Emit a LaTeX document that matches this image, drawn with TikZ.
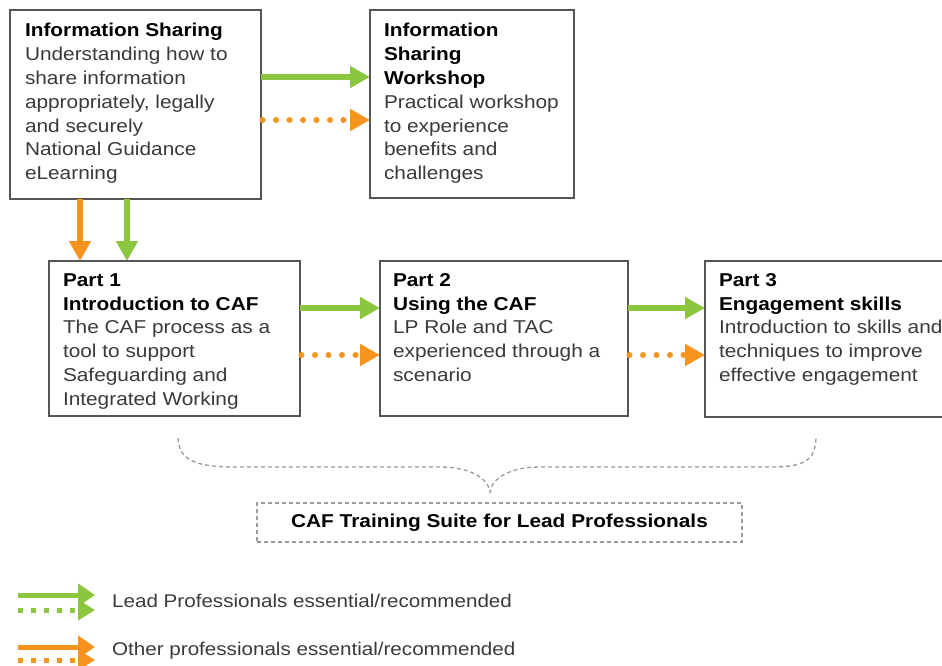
\documentclass[tikz,border=0pt]{standalone}
\usepackage{fontspec}
\setmainfont{Liberation Sans}[FakeStretch=1.12]
\usetikzlibrary{arrows.meta}
\definecolor{lpgreen}{HTML}{8CC63F}
\definecolor{oporange}{HTML}{F7941D}
\definecolor{boxc}{HTML}{555555}
\definecolor{bodyc}{HTML}{3A3A3A}
\definecolor{dashc}{HTML}{9A9A9A}
\newcommand\ttl[1]{\textbf{#1}}
\newcommand\bdy[1]{\textcolor{bodyc}{#1}}
\begin{document}
\begin{tikzpicture}[x=1pt,y=-1pt,
  box/.style={draw=boxc, line width=1.5pt, fill=white, inner sep=0pt, outer sep=0pt, anchor=north west},
  txt/.style={inner sep=0pt, outer sep=0pt, anchor=north west, align=left, font=\fontsize{18.6}{23.8}\selectfont},
  garrow/.style={draw=lpgreen, line width=5.5pt, -{Triangle[length=20pt,width=21pt]}},
  oarrow/.style={draw=oporange, line width=5.5pt, -{Triangle[length=20pt,width=21pt]}},
  odots/.style={draw=oporange, line width=6pt, line cap=round, dash pattern=on 0pt off 13.5pt, shorten <=1.5pt, -{Triangle[length=20pt,width=21pt]}},
  legsolid/.style={line width=5pt, -{Triangle[length=17pt,width=22pt]}},
  legdots/.style={line width=5pt, dash pattern=on 5pt off 8pt, -{Triangle[length=17pt,width=20pt]}},
  legtxt/.style={inner sep=0pt, anchor=base west, text=bodyc, font=\fontsize{18.4}{22}\selectfont},
  dashline/.style={draw=dashc, line width=1.3pt, dash pattern=on 4pt off 3pt}]
\useasboundingbox (0,0) rectangle (942,665);

% boxes
\node[box, minimum width=251pt, minimum height=189pt] (is) at (10,10) {};
\node[box, minimum width=204pt, minimum height=188pt] (isw) at (370,10) {};
\node[box, minimum width=251pt, minimum height=155pt] (p1) at (49,261) {};
\node[box, minimum width=248pt, minimum height=155pt] (p2) at (380,261) {};
\node[box, minimum width=240pt, minimum height=156pt] (p3) at (705,261) {};

% texts
\node[txt] (ist) at (25,23.4) {\ttl{Information Sharing}\\\bdy{Understanding how to}\\\bdy{share information}\\\bdy{appropriately, legally}\\\bdy{and securely}\\\bdy{National Guidance}\\\bdy{eLearning}};
\node[txt] (iswt) at (384,23.4) {\ttl{Information}\\\ttl{Sharing}\\\ttl{Workshop}\\\bdy{Practical workshop}\\\bdy{to experience}\\\bdy{benefits and}\\\bdy{challenges}};
\node[txt] (p1t) at (63,273.4) {\ttl{Part 1}\\\ttl{Introduction to CAF}\\\bdy{The CAF process as a}\\\bdy{tool to support}\\\bdy{Safeguarding and}\\\bdy{Integrated Working}};
\node[txt] (p2t) at (393,273.4) {\ttl{Part 2}\\\ttl{Using the CAF}\\\bdy{LP Role and TAC}\\\bdy{experienced through a}\\\bdy{scenario}};
\node[txt] (p3t) at (719,273.4) {\ttl{Part 3}\\\ttl{Engagement skills}\\\bdy{Introduction to skills and}\\\bdy{techniques to improve}\\\bdy{effective engagement}};

% connectors
\draw[garrow] (is.east |- 0,77) -- (isw.west |- 0,77);
\draw[odots] (is.east |- 0,120) -- (isw.west |- 0,120);
\draw[oarrow] (is.south -| 80,0) -- (p1.north -| 80,0);
\draw[garrow] (is.south -| 127,0) -- (p1.north -| 127,0);
\draw[garrow] (p1.east |- 0,308) -- (p2.west |- 0,308);
\draw[odots] (p1.east |- 0,355) -- (p2.west |- 0,355);
\draw[garrow] (p2.east |- 0,308) -- (p3.west |- 0,308);
\draw[odots] (p2.east |- 0,355) -- (p3.west |- 0,355);

% brace
\draw[dashline] (178,438) .. controls (179,460) and (195,467) .. (235,467) -- (440,467)
  .. controls (470,467) and (488,478) .. (490,492)
  .. controls (492,478) and (510,467) .. (540,467) -- (772,467)
  .. controls (808,467) and (815,458) .. (816,438);

\node[draw=dashc, line width=1.3pt, dash pattern=on 4pt off 3pt, inner sep=0pt,
  minimum width=485pt, minimum height=39pt,
  font=\bfseries\fontsize{18.6}{22}\selectfont] (suite) at (499.5,522.5) {CAF Training Suite for Lead Professionals};

% legend
\coordinate (g1a) at (18,595); \coordinate (g1b) at (95,595);
\coordinate (g2a) at (18,610); \coordinate (g2b) at (95,610);
\coordinate (o1a) at (18,647); \coordinate (o1b) at (95,647);
\coordinate (o2a) at (18,660); \coordinate (o2b) at (95,660);
\draw[legsolid, draw=lpgreen, fill=lpgreen] (g1a) -- (g1b);
\draw[legdots, draw=lpgreen, fill=lpgreen] (g2a) -- (g2b);
\draw[legsolid, draw=oporange, fill=oporange] (o1a) -- (o1b);
\draw[legdots, draw=oporange, fill=oporange] (o2a) -- (o2b);
\node[legtxt] (l1) at (112,607) {Lead Professionals essential/recommended};
\node[legtxt] (l2) at (112,655) {Other professionals essential/recommended};
\end{tikzpicture}
\end{document}
